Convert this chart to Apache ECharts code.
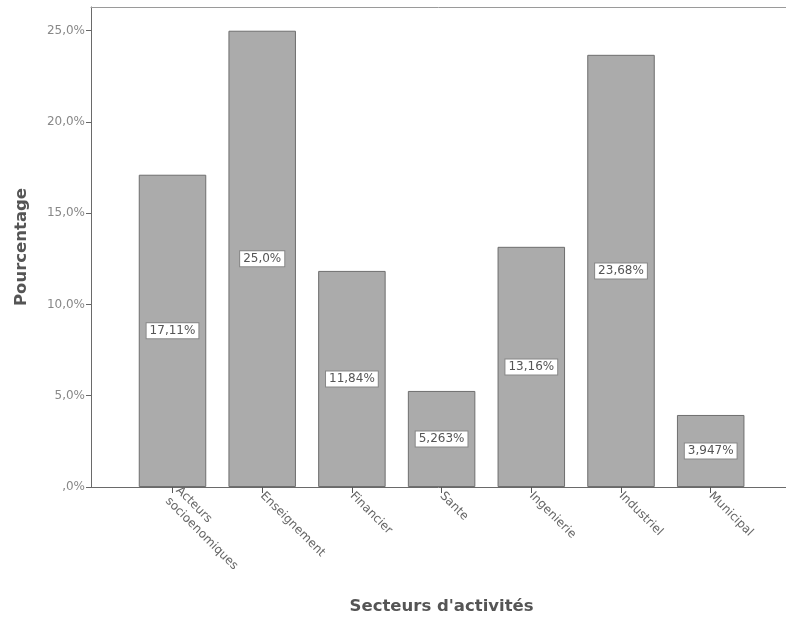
<!DOCTYPE html>
<html>
<head>
<meta charset="utf-8">
<script src="https://cdn.jsdelivr.net/npm/echarts@6/dist/echarts.min.js"></script>
<style>html,body{margin:0;padding:0;background:#fff;}#c{width:786px;height:622px;}</style>
</head>
<body>
<div id="c"></div>
<script>
const categories = ["Acteurs\nsocioenomiques", "Enseignement", "Financier", "Sante", "Ingenierie", "Industriel", "Municipal"];
const values = [17.11, 25.0, 11.84, 5.263, 13.16, 23.68, 3.947];
const valueLabels = ["17,11%", "25,0%", "11,84%", "5,263%", "13,16%", "23,68%", "3,947%"];
const yMin = 0, yMax = 26.3, yInterval = 5;

const chart = echarts.init(document.getElementById('c'));
const fmtY = v => v === 0 ? ',0%' : v.toFixed(1).replace('.', ',') + '%';
chart.setOption({
  backgroundColor: '#ffffff',
  animation: false,
  grid: [
    {left: 91, right: 0, top: 7, bottom: 135},
    {left: 127.65, right: 30.45, top: 7, bottom: 135}
  ],
  xAxis: [
    {gridIndex: 0, type: 'value', min: 0, max: 1, position: 'bottom',
     axisLine: {show: true, lineStyle: {color: '#6a6a6a', width: 1}},
     axisTick: {show: false}, axisLabel: {show: false}, splitLine: {show: false}},
    {gridIndex: 0, type: 'value', min: 0, max: 1, position: 'top',
     axisLine: {show: true, lineStyle: {color: '#9a9a9a', width: 1}},
     axisTick: {show: false}, axisLabel: {show: false}, splitLine: {show: false}},
    {gridIndex: 1, type: 'category', data: categories, position: 'bottom',
     axisLine: {show: false},
     axisTick: {show: true, alignWithLabel: true, length: 6, lineStyle: {color: '#555'}},
     axisLabel: {rotate: -45, color: '#666', fontSize: 12, fontFamily: 'DejaVu Sans', margin: 7, interval: 0, lineHeight: 15},
     name: "Secteurs d'activités", nameLocation: 'middle', nameGap: 111,
     nameTextStyle: {fontSize: 16.5, fontWeight: 'bold', color: '#555', fontFamily: 'DejaVu Sans'}}
  ],
  yAxis: [
    {gridIndex: 0, type: 'value', min: yMin, max: yMax, interval: yInterval,
     axisLine: {show: true, lineStyle: {color: '#6a6a6a', width: 1}},
     axisTick: {show: true, length: 5, lineStyle: {color: '#666'}},
     axisLabel: {formatter: fmtY, color: '#888', fontSize: 12, fontFamily: 'DejaVu Sans', margin: 6,
       showMaxLabel: false},
     splitLine: {show: false},
     name: 'Pourcentage', nameLocation: 'middle', nameGap: 61,
     nameTextStyle: {fontSize: 16.5, fontWeight: 'bold', color: '#555', fontFamily: 'DejaVu Sans'}},
    {gridIndex: 1, type: 'value', min: yMin, max: yMax, interval: yInterval,
     axisLine: {show: false}, axisTick: {show: false}, axisLabel: {show: false}, splitLine: {show: false}}
  ],
  series: [{
    type: 'bar', xAxisIndex: 2, yAxisIndex: 1,
    data: values, barWidth: 67.5,
    itemStyle: {color: '#ababab', borderColor: '#6e6e6e', borderWidth: 1},
    label: {show: true, position: 'inside', formatter: p => valueLabels[p.dataIndex],
      color: '#555', fontSize: 12, fontFamily: 'DejaVu Sans',
      backgroundColor: '#fff', borderColor: '#888', borderWidth: 1, padding: [2, 3, 1, 3]}
  }]
});
</script>
</body>
</html>
